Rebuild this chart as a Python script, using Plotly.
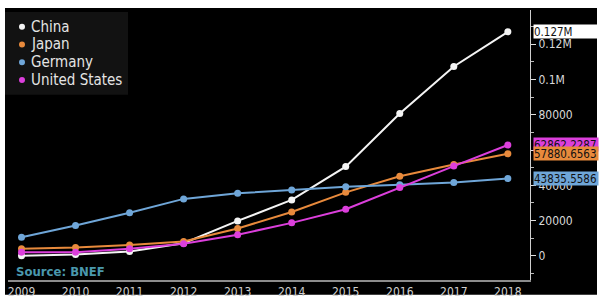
import plotly.graph_objects as go

years = [2009, 2010, 2011, 2012, 2013, 2014, 2015, 2016, 2017, 2018]
china = [0, 700, 2500, 7200, 19800, 31700, 50600, 80700, 107400, 127000]
japan = [4000, 4700, 6200, 8100, 15500, 24900, 36000, 45100, 51800, 57880.6563]
germany = [10500, 17200, 24470, 32300, 35470, 37300, 39200, 40300, 41600, 43835.5586]
usa = [2100, 2100, 4000, 6900, 12000, 18700, 26400, 38800, 50900, 62862.2287]

names = ["China", "Japan", "Germany", "United States"]
colors = ["#f4f4f4", "#e88a3c", "#6fa6d8", "#dc3fdc"]
series = [china, japan, germany, usa]
end_labels = ["0.127M", "57880.6563", "43835.5586", "62862.2287"]

ytick_vals = [0, 20000, 40000, 60000, 80000, 100000, 120000]
ytick_text = ["0", "20000", "40000", "", "80000", "0.1M", "0.12M"]

FONT = "Liberation Sans Narrow, DejaVu Sans Condensed, Arial Narrow, sans-serif"

# plot area in pixels: x 8..530, y 10..284
def px(x):
    return (x - 8) / 522.0


def py(y):
    return (284 - y) / 274.0


fig = go.Figure()
for name, col, vals in zip(names, colors, series):
    fig.add_trace(go.Scatter(x=years, y=vals, mode="lines+markers", name=name,
                             line=dict(color=col, width=2),
                             marker=dict(color=col, size=7),
                             showlegend=False))

# black panel behind everything
fig.add_shape(type="rect", xref="paper", yref="paper",
              x0=px(5), x1=px(597), y0=py(299), y1=py(8),
              fillcolor="black", line=dict(width=0), layer="below")

# hand-drawn legend (compact, dots only)
fig.add_shape(type="rect", xref="paper", yref="paper",
              x0=px(5), x1=px(128), y0=py(96), y1=py(12),
              fillcolor="#121212", line=dict(width=0), layer="below")
leg_y = [27, 45, 63, 81]
for name, col, yy in zip(names, colors, leg_y):
    fig.add_shape(type="circle", xref="paper", yref="paper",
                  x0=px(19), x1=px(25), y0=py(yy + 3), y1=py(yy - 3),
                  fillcolor=col, line=dict(width=0))
    fig.add_annotation(xref="paper", yref="paper", x=px(29), y=py(yy),
                       xanchor="left", yanchor="middle", showarrow=False,
                       text=name,
                       font=dict(family=FONT, size=15, color="#e4e4e4"))

# end value tags (pink first, so orange overlaps it)
order = [3, 1, 2, 0]
for i in order:
    col = colors[i]
    fig.add_annotation(xref="paper", yref="y", x=1, y=series[i][-1],
                       xanchor="left", xshift=3, yanchor="middle",
                       text=end_labels[i], showarrow=False,
                       bgcolor=col if i != 0 else "#ffffff",
                       font=dict(family=FONT, size=11.5, color="#111111"),
                       width=64, height=13, align="left", borderpad=0)

fig.add_annotation(xref="paper", yref="paper", x=px(14), y=py(275),
                   xanchor="left", yanchor="middle", showarrow=False,
                   text="<b>Source: BNEF</b>",
                   font=dict(family=FONT, size=13, color="#4a98ad"))

fig.update_layout(
    width=600, height=307,
    margin=dict(l=8, r=70, t=10, b=23),
    paper_bgcolor="white", plot_bgcolor="black",
    font=dict(family=FONT, color="#d8d8d8"),
    showlegend=False,
    xaxis=dict(range=[2008.75, 2018.41], tickvals=years,
               ticktext=[str(y) for y in years],
               showgrid=False, zeroline=False, showline=True,
               linecolor="#8c8c8c", linewidth=1.5, ticks="",
               tickfont=dict(family=FONT, size=12, color="#d0d0d0")),
    yaxis=dict(range=[-13690, 139400], side="right",
               tickvals=ytick_vals, ticktext=ytick_text,
               showgrid=False, zeroline=False, showline=True,
               linecolor="#cfcfcf", linewidth=1, ticks="outside",
               ticklen=5, tickcolor="#e0e0e0",
               minor=dict(ticks="outside", ticklen=3, tickcolor="#bbbbbb",
                          dtick=10000, showgrid=False),
               tickfont=dict(family=FONT, size=12, color="#d8d8d8")),
)

fig.write_html("out.html")
